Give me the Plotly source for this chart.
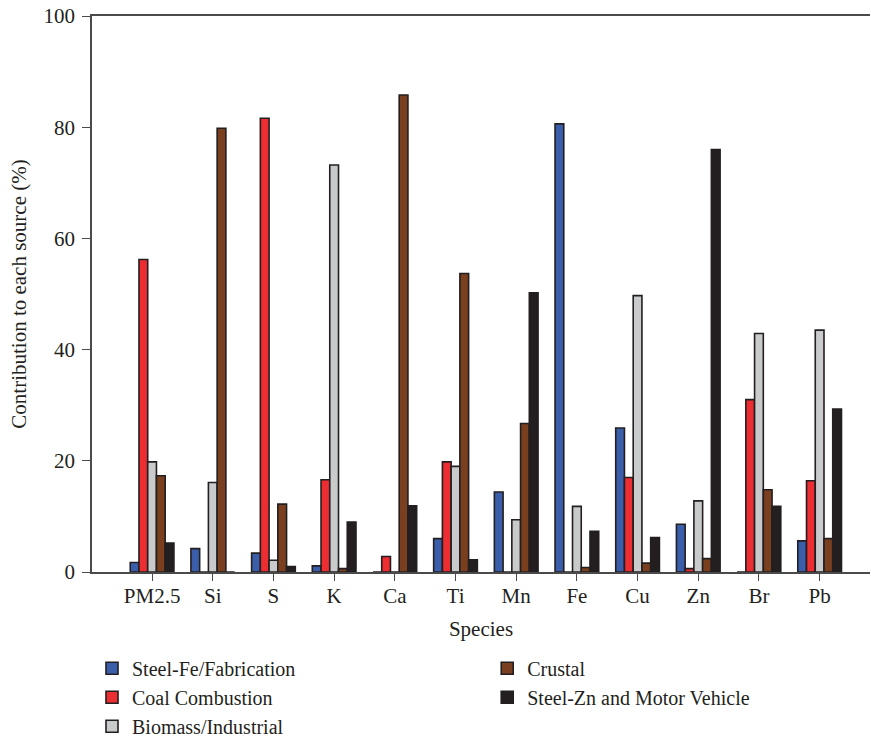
import plotly.graph_objects as go

species = ["PM2.5", "Si", "S", "K", "Ca", "Ti", "Mn", "Fe", "Cu", "Zn", "Br", "Pb"]

steel_fe = [1.7, 4.2, 3.4, 1.1, 0, 6.0, 14.4, 80.6, 25.9, 8.6, 0, 5.6]
coal = [56.2, 0, 81.6, 16.6, 2.8, 19.8, 0, 0, 17.0, 0.6, 31.0, 16.4]
biomass = [19.8, 16.1, 2.1, 73.2, 0, 19.0, 9.4, 11.8, 49.7, 12.8, 42.9, 43.5]
crustal = [17.3, 79.8, 12.2, 0.6, 85.8, 53.7, 26.7, 0.8, 1.6, 2.4, 14.8, 6.0]
steel_zn = [5.2, 0, 1.0, 9.0, 11.9, 2.2, 50.2, 7.3, 6.2, 76.0, 11.8, 29.3]

series = [
    ("Steel-Fe/Fabrication", steel_fe, "#3a5ea9", "legend"),
    ("Coal Combustion", coal, "#ec2d32", "legend"),
    ("Biomass/Industrial", biomass, "#c9cacb", "legend"),
    ("Crustal", crustal, "#7a3f1e", "legend2"),
    ("Steel-Zn and Motor Vehicle", steel_zn, "#231f20", "legend2"),
]

FONT = "Liberation Serif"
FS = 21
LFS = 20
TXT = "#231f20"
AX = "#4a4a4a"

fig = go.Figure()
for name, vals, color, lg in series:
    fig.add_trace(go.Bar(
        x=species, y=vals, name=name,
        marker=dict(color=color, line=dict(color="#231f20", width=1.6)),
        legend=lg,
    ))

fig.update_layout(
    width=871, height=739,
    margin=dict(l=92, r=1, t=16, b=167, autoexpand=False),
    paper_bgcolor="white", plot_bgcolor="white",
    barmode="group", bargap=0.28, bargroupgap=0,
    font=dict(family=FONT, size=FS, color=TXT),
    showlegend=True,
    legend=dict(
        x=0.0, y=-0.138, xanchor="left", yanchor="top",
        font=dict(family=FONT, size=LFS, color=TXT),
        tracegroupgap=0, itemwidth=30, bgcolor="rgba(0,0,0,0)",
    ),
    legend2=dict(
        x=0.508, y=-0.138, xanchor="left", yanchor="top",
        font=dict(family=FONT, size=LFS, color=TXT),
        tracegroupgap=0, itemwidth=30, bgcolor="rgba(0,0,0,0)",
    ),
)

fig.update_xaxes(
    range=[-0.99, 11.83], automargin=False,
    showline=True, linecolor=AX, linewidth=1.5, mirror=True,
    ticks="outside", ticklen=7, tickwidth=1.2, tickcolor=AX,
    showgrid=False, zeroline=False,
    tickfont=dict(family=FONT, size=FS, color=TXT),
    ticklabelstandoff=-3,
    title=dict(text="Species", font=dict(family=FONT, size=FS, color=TXT), standoff=14),
)
fig.update_yaxes(
    range=[0, 100], tickvals=[0, 20, 40, 60, 80, 100], automargin=False,
    showline=True, linecolor=AX, linewidth=1.5,
    ticks="outside", ticklen=8, tickwidth=1.2, tickcolor=AX,
    showgrid=False, zeroline=False,
    tickfont=dict(family=FONT, size=FS, color=TXT),
    ticklabelstandoff=3,
    title=dict(text="Contribution to each source (%)", font=dict(family=FONT, size=FS, color=TXT), standoff=11),
)

# remove the page's default 8px body margin so the figure fills the window exactly
fig.write_html(
    "out.html",
    config={"displayModeBar": False},
    post_script="document.body.style.margin='0';document.body.style.overflow='hidden';",
)
